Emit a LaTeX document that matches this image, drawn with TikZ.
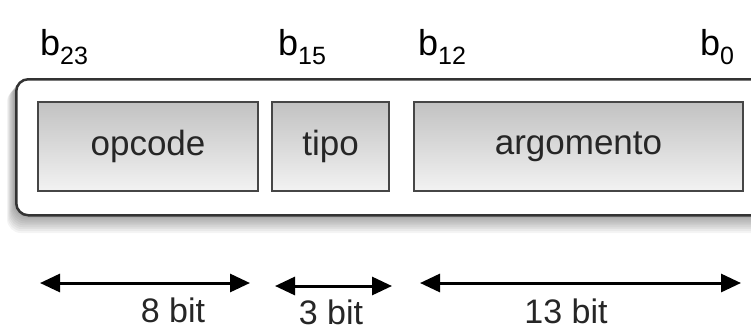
\documentclass[tikz,border=0pt]{standalone}
\usepackage{fontspec}
\setmainfont{Liberation Sans}
\usetikzlibrary{arrows.meta,shadings}
\newcommand{\bsub}[1]{b\raisebox{-9pt}{\fontsize{25}{25}\selectfont #1}}
\tikzset{
  field/.style={draw=gray!55!black, line width=2pt, top color=gray!48, bottom color=gray!10, font=\fontsize{35}{40}\selectfont, text=black!85},
  bitlbl/.style={font=\fontsize{36}{40}\selectfont, anchor=base west, inner sep=0pt},
  span/.style={line width=3pt, {Triangle[length=20pt,width=18pt]}-{Triangle[length=20pt,width=18pt]}},
  widthlbl/.style={font=\fontsize{34}{40}\selectfont, text=black!85, inner sep=0pt},
}
\begin{document}
\begin{tikzpicture}[x=1pt,y=-1pt]
\useasboundingbox (0,0) rectangle (751,330);
% shadow of the outer frame
\foreach \i in {1,...,10}{
  \fill[black, opacity=0.045, rounded corners=14pt] (15-\i*0.8,78+\i*1.0) rectangle (790,214+\i*1.9);
}
\node[draw=black!80, line width=2.5pt, fill=white, rounded corners=12pt, minimum width=790pt, minimum height=136pt, inner sep=0pt, anchor=north west] (frame) at (15,78) {};
% fields
\node[field, minimum width=220pt, minimum height=89pt, anchor=north west] (opcode) at (37,101) {opcode};
\node[field, minimum width=117pt, minimum height=89pt, anchor=north west] (tipo) at (271,101) {tipo};
\node[field, minimum width=329pt, minimum height=89pt, anchor=north west] (arg) at (413,101) {argomento};
% bit labels
\node[bitlbl] (b23) at (40,55) {\bsub{23}};
\node[bitlbl] (b15) at (278,55) {\bsub{15}};
\node[bitlbl] (b12) at (418,55) {\bsub{12}};
\node[bitlbl] (b0) at (700,55) {\bsub{0}};
% width arrows
\coordinate (a1l) at (40,283); \coordinate (a1r) at (250,283);
\coordinate (a2l) at (275,286); \coordinate (a2r) at (392,286);
\coordinate (a3l) at (420,283); \coordinate (a3r) at (741,283);
\draw[span] (a1l) -- (a1r);
\draw[span] (a2l) -- (a2r);
\draw[span] (a3l) -- (a3r);
\node[widthlbl] (w1) at (173,310) {8 bit};
\node[widthlbl] (w2) at (331,312) {3 bit};
\node[widthlbl] (w3) at (566,311) {13 bit};
\end{tikzpicture}
\end{document}
